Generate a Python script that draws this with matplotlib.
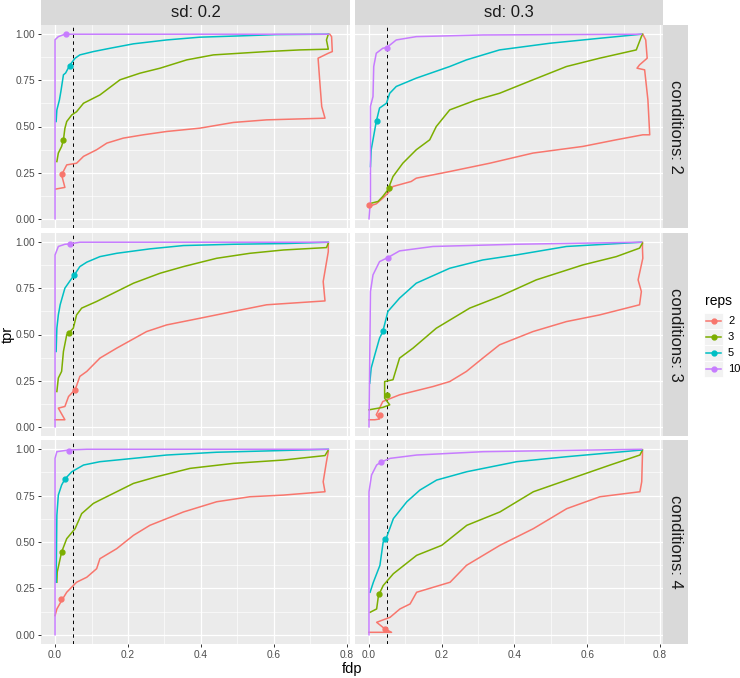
#coding:utf-8
# ROC-like curves (tpr vs fdp) per sd / conditions facet, one line per reps

import numpy as np
import matplotlib.pyplot as plt
from matplotlib.patches import Rectangle

plt.rcParams['font.family'] = ['Liberation Sans', 'DejaVu Sans']

reps = [2, 3, 5, 10]
sd_levels = ['0.2', '0.3']
cond_levels = [2, 3, 4]
colors = ['#F8766D', '#7CAE00', '#00BFC4', '#C77CFF']
fdp_cut = 0.05

# ---- sd 0.2, conditions 2
fdp_22_r2 = [0.002, 0.027, 0.018, 0.032, 0.059, 0.078, 0.114, 0.142, 0.187, 0.242, 0.306, 0.397, 0.489, 0.58, 0.74, 0.731, 0.726, 0.721, 0.749, 0.76, 0.758, 0.753]
tpr_22_r2 = [0.161, 0.17, 0.238, 0.292, 0.301, 0.338, 0.374, 0.41, 0.437, 0.455, 0.473, 0.491, 0.522, 0.536, 0.545, 0.608, 0.735, 0.87, 0.897, 0.906, 0.987, 1.0]
fdp_22_r3 = [0.005, 0.009, 0.018, 0.023, 0.027, 0.032, 0.046, 0.059, 0.078, 0.123, 0.178, 0.233, 0.288, 0.361, 0.434, 0.507, 0.58, 0.671, 0.749, 0.744, 0.749]
tpr_22_r3 = [0.31, 0.356, 0.392, 0.428, 0.49, 0.527, 0.563, 0.58, 0.626, 0.671, 0.753, 0.789, 0.816, 0.861, 0.888, 0.897, 0.906, 0.915, 0.919, 0.969, 1.0]
fdp_22_r5 = [0.003, 0.005, 0.012, 0.016, 0.023, 0.029, 0.041, 0.055, 0.068, 0.105, 0.151, 0.215, 0.306, 0.397, 0.507, 0.607, 0.749]
tpr_22_r5 = [0.527, 0.59, 0.644, 0.69, 0.78, 0.79, 0.834, 0.87, 0.888, 0.906, 0.924, 0.948, 0.969, 0.984, 0.991, 0.998, 1.0]
fdp_22_r10 = [0.0, 0.0, 0.009, 0.027, 0.75]
tpr_22_r10 = [0.0, 0.97, 0.987, 1.0, 1.0]
pt_fdp_22 = [0.02, 0.023, 0.041, 0.029]
pt_tpr_22 = [0.244, 0.428, 0.83, 1.0]

# ---- sd 0.3, conditions 2
fdp_32_r2 = [0.0, 0.02, 0.038, 0.052, 0.066, 0.116, 0.13, 0.222, 0.332, 0.451, 0.588, 0.68, 0.753, 0.772, 0.767, 0.758, 0.737, 0.744, 0.765, 0.761, 0.753]
tpr_32_r2 = [0.067, 0.081, 0.112, 0.139, 0.175, 0.202, 0.22, 0.256, 0.301, 0.356, 0.392, 0.428, 0.455, 0.455, 0.644, 0.807, 0.816, 0.834, 0.87, 0.969, 1.0]
fdp_32_r3 = [0.0, 0.025, 0.038, 0.052, 0.066, 0.093, 0.13, 0.167, 0.185, 0.222, 0.295, 0.359, 0.451, 0.543, 0.634, 0.735, 0.749, 0.752]
tpr_32_r3 = [0.081, 0.094, 0.121, 0.157, 0.229, 0.301, 0.374, 0.428, 0.5, 0.59, 0.644, 0.68, 0.753, 0.825, 0.87, 0.915, 0.987, 1.0]
fdp_32_r5 = [0.004, 0.006, 0.011, 0.02, 0.029, 0.048, 0.057, 0.075, 0.13, 0.222, 0.268, 0.359, 0.497, 0.634, 0.749]
tpr_32_r5 = [0.283, 0.374, 0.428, 0.527, 0.6, 0.626, 0.68, 0.717, 0.762, 0.825, 0.861, 0.915, 0.951, 0.978, 1.0]
fdp_32_r10 = [0.0, 0.004, 0.004, 0.011, 0.013, 0.02, 0.038, 0.049, 0.075, 0.13, 0.313, 0.749]
tpr_32_r10 = [0.0, 0.1, 0.61, 0.662, 0.825, 0.897, 0.924, 0.928, 0.969, 0.987, 0.996, 1.0]
pt_fdp_32 = [0.0, 0.055, 0.022, 0.049]
pt_tpr_32 = [0.072, 0.166, 0.53, 0.928]

# ---- sd 0.2, conditions 3
fdp_23_r2 = [0.0, 0.027, 0.009, 0.027, 0.037, 0.05, 0.055, 0.068, 0.087, 0.123, 0.169, 0.251, 0.306, 0.397, 0.489, 0.58, 0.74, 0.735, 0.749, 0.749]
tpr_23_r2 = [0.038, 0.038, 0.101, 0.11, 0.164, 0.191, 0.2, 0.273, 0.3, 0.372, 0.426, 0.516, 0.552, 0.588, 0.625, 0.661, 0.682, 0.787, 0.949, 0.995]
fdp_23_r3 = [0.005, 0.009, 0.018, 0.023, 0.032, 0.037, 0.05, 0.059, 0.073, 0.114, 0.169, 0.215, 0.288, 0.352, 0.443, 0.534, 0.626, 0.744, 0.749]
tpr_23_r3 = [0.191, 0.264, 0.3, 0.408, 0.498, 0.507, 0.534, 0.606, 0.643, 0.679, 0.733, 0.778, 0.832, 0.868, 0.913, 0.94, 0.958, 0.971, 0.995]
fdp_23_r5 = [0.003, 0.005, 0.009, 0.014, 0.027, 0.046, 0.052, 0.068, 0.087, 0.123, 0.169, 0.26, 0.352, 0.489, 0.635, 0.749]
tpr_23_r5 = [0.408, 0.534, 0.606, 0.661, 0.751, 0.805, 0.82, 0.868, 0.892, 0.922, 0.94, 0.964, 0.982, 0.989, 0.993, 1.0]
fdp_23_r10 = [0.0, 0.0, 0.009, 0.027, 0.041, 0.068, 0.749]
tpr_23_r10 = [0.0, 0.931, 0.977, 0.989, 0.991, 1.0, 1.0]
pt_fdp_23 = [0.055, 0.037, 0.052, 0.041]
pt_tpr_23 = [0.2, 0.507, 0.82, 0.989]

# ---- sd 0.3, conditions 3
fdp_33_r2 = [0.0, 0.016, 0.029, 0.02, 0.038, 0.084, 0.176, 0.222, 0.268, 0.313, 0.359, 0.451, 0.543, 0.634, 0.744, 0.749, 0.74, 0.753, 0.752, 0.752]
tpr_33_r2 = [0.038, 0.038, 0.042, 0.065, 0.137, 0.173, 0.218, 0.245, 0.3, 0.372, 0.444, 0.516, 0.57, 0.606, 0.661, 0.733, 0.796, 0.913, 0.968, 1.0]
fdp_33_r3 = [0.0, 0.038, 0.057, 0.043, 0.043, 0.066, 0.084, 0.121, 0.185, 0.277, 0.359, 0.46, 0.588, 0.68, 0.744, 0.752]
tpr_33_r3 = [0.092, 0.105, 0.119, 0.155, 0.245, 0.255, 0.372, 0.426, 0.534, 0.643, 0.706, 0.796, 0.877, 0.922, 0.968, 0.995]
fdp_33_r5 = [0.002, 0.006, 0.016, 0.029, 0.038, 0.052, 0.084, 0.13, 0.222, 0.313, 0.405, 0.543, 0.749]
tpr_33_r5 = [0.236, 0.318, 0.39, 0.48, 0.516, 0.625, 0.697, 0.778, 0.859, 0.904, 0.931, 0.977, 1.0]
fdp_33_r10 = [0.0, 0.004, 0.011, 0.029, 0.052, 0.084, 0.176, 0.405, 0.749]
tpr_33_r10 = [0.0, 0.733, 0.823, 0.895, 0.917, 0.953, 0.977, 0.989, 1.0]
pt_fdp_33 = [0.031, 0.05, 0.038, 0.052]
pt_tpr_33 = [0.065, 0.17, 0.52, 0.913]

# ---- sd 0.2, conditions 4
fdp_24_r2 = [0.0, 0.005, 0.018, 0.032, 0.059, 0.087, 0.114, 0.123, 0.169, 0.215, 0.26, 0.352, 0.443, 0.534, 0.626, 0.74, 0.735, 0.744, 0.749]
tpr_24_r2 = [0.103, 0.139, 0.184, 0.229, 0.283, 0.31, 0.356, 0.41, 0.464, 0.536, 0.59, 0.662, 0.717, 0.744, 0.753, 0.771, 0.825, 0.933, 0.987]
fdp_24_r3 = [0.005, 0.006, 0.012, 0.018, 0.032, 0.055, 0.073, 0.105, 0.123, 0.169, 0.215, 0.279, 0.37, 0.489, 0.626, 0.74, 0.749]
tpr_24_r3 = [0.283, 0.338, 0.392, 0.446, 0.518, 0.572, 0.653, 0.708, 0.726, 0.771, 0.816, 0.852, 0.897, 0.924, 0.942, 0.966, 0.996]
fdp_24_r5 = [0.003, 0.005, 0.009, 0.018, 0.027, 0.046, 0.078, 0.123, 0.215, 0.306, 0.443, 0.58, 0.749]
tpr_24_r5 = [0.283, 0.644, 0.753, 0.807, 0.839, 0.879, 0.915, 0.933, 0.951, 0.969, 0.984, 0.991, 1.0]
fdp_24_r10 = [0.0, 0.0, 0.005, 0.037, 0.087, 0.749]
tpr_24_r10 = [0.0, 0.951, 0.987, 0.996, 1.0, 1.0]
pt_fdp_24 = [0.016, 0.018, 0.027, 0.037]
pt_tpr_24 = [0.19, 0.446, 0.839, 0.993]

# ---- sd 0.3, conditions 4
fdp_34_r2 = [0.0, 0.062, 0.044, 0.021, 0.058, 0.085, 0.113, 0.131, 0.223, 0.268, 0.36, 0.452, 0.544, 0.635, 0.745, 0.75, 0.752, 0.752]
tpr_34_r2 = [0.013, 0.013, 0.031, 0.067, 0.094, 0.139, 0.166, 0.229, 0.283, 0.374, 0.482, 0.572, 0.68, 0.744, 0.771, 0.825, 0.969, 0.996]
fdp_34_r3 = [0.003, 0.021, 0.026, 0.039, 0.067, 0.131, 0.2, 0.269, 0.36, 0.452, 0.544, 0.663, 0.745, 0.752]
tpr_34_r3 = [0.121, 0.139, 0.211, 0.265, 0.329, 0.428, 0.482, 0.59, 0.662, 0.771, 0.834, 0.915, 0.969, 0.996]
fdp_34_r5 = [0.003, 0.012, 0.03, 0.039, 0.047, 0.067, 0.104, 0.14, 0.186, 0.269, 0.406, 0.544, 0.75]
tpr_34_r5 = [0.229, 0.283, 0.374, 0.5, 0.518, 0.626, 0.717, 0.78, 0.834, 0.879, 0.933, 0.96, 0.996]
fdp_34_r10 = [0.0, 0.0, 0.007, 0.021, 0.032, 0.058, 0.131, 0.314, 0.75]
tpr_34_r10 = [0.0, 0.771, 0.861, 0.915, 0.93, 0.951, 0.969, 0.987, 1.0]
pt_fdp_34 = [0.044, 0.027, 0.044, 0.032]
pt_tpr_34 = [0.031, 0.218, 0.514, 0.93]

# table of panels built from the lists above
panels = {}
for s in ['2', '3']:
    for c in cond_levels:
        key = s + str(c)
        g = globals()
        panels[key] = {
            'lines': [(g['fdp_%s_r%d' % (key, r)], g['tpr_%s_r%d' % (key, r)]) for r in reps],
            'pts': (g['pt_fdp_' + key], g['pt_tpr_' + key]),
        }

W, H = 740, 678
fig = plt.figure(figsize=(W / 100, H / 100), dpi=100, facecolor='white')

def rect(x0, y0, x1, y1):
    # pixel box (top-left origin) -> figure fraction
    return [x0 / W, 1 - y1 / H, (x1 - x0) / W, (y1 - y0) / H]

col_px = [(41, 350), (355, 663)]
row_px = [(25, 228), (233, 436), (440, 644)]
strip_bg = '#D9D9D9'

for j, sd in enumerate(sd_levels):
    x0, x1 = col_px[j]
    sa = fig.add_axes(rect(x0, 0, x1, 25))
    sa.set_facecolor(strip_bg)
    sa.set_xticks([]); sa.set_yticks([])
    for sp in sa.spines.values():
        sp.set_visible(False)
    sa.text(0.5, 0.5, 'sd: ' + sd, ha='center', va='center', fontsize=12, color='#1A1A1A', transform=sa.transAxes)

for i, c in enumerate(cond_levels):
    y0, y1 = row_px[i]
    sa = fig.add_axes(rect(663, y0, 688, y1))
    sa.set_facecolor(strip_bg)
    sa.set_xticks([]); sa.set_yticks([])
    for sp in sa.spines.values():
        sp.set_visible(False)
    sa.text(0.5, 0.5, 'conditions: %d' % c, ha='center', va='center', rotation=-90,
            fontsize=12, color='#1A1A1A', transform=sa.transAxes)

for i, c in enumerate(cond_levels):
    for j, sd in enumerate(sd_levels):
        x0, x1 = col_px[j]
        y0, y1 = row_px[i]
        ax = fig.add_axes(rect(x0, y0, x1, y1))
        ax.set_facecolor('#EBEBEB')
        for sp in ax.spines.values():
            sp.set_visible(False)
        ax.set_xlim(-0.0385, 0.8085)
        ax.set_ylim(-0.05, 1.05)
        ax.set_xticks([0, 0.2, 0.4, 0.6, 0.8])
        ax.set_xticks([0.1, 0.3, 0.5, 0.7], minor=True)
        ax.set_yticks([0, 0.25, 0.5, 0.75, 1.0])
        ax.set_yticks([0.125, 0.375, 0.625, 0.875], minor=True)
        ax.set_xticklabels(['0.0', '0.2', '0.4', '0.6', '0.8'])
        ax.set_yticklabels(['0.00', '0.25', '0.50', '0.75', '1.00'])
        ax.grid(which='major', color='white', lw=0.9)
        ax.grid(which='minor', color='white', lw=0.45)
        ax.set_axisbelow(True)
        ax.tick_params(which='minor', length=0)
        ax.tick_params(which='major', length=2.2, width=0.7, color='#333333',
                       labelsize=7.3, labelcolor='#4D4D4D', pad=2.2)
        if j > 0:
            ax.tick_params(axis='y', left=False, labelleft=False)
        if i < 2:
            ax.tick_params(axis='x', bottom=False, labelbottom=False)

        p = panels[sd[-1] + str(c)]
        ax.axvline(fdp_cut, color='black', lw=0.7, ls=(0, (3.5, 3.5)), zorder=2)
        for k, (fx, ty) in enumerate(p['lines']):
            ax.plot(fx, ty, color=colors[k], lw=1.1, zorder=3)
        for k in range(len(reps)):
            ax.plot(p['pts'][0][k], p['pts'][1][k], 'o', color=colors[k], ms=3.5, zorder=4)

fig.text(352 / W, 1 - 669 / H, 'fdp', ha='center', va='center', fontsize=10.5, color='black')
fig.text(8 / W, 1 - 334 / H, 'tpr', ha='center', va='center', rotation=90, fontsize=10.5, color='black')

# legend
la = fig.add_axes([0, 0, 1, 1], facecolor='none')
la.set_xlim(0, W); la.set_ylim(H, 0)
la.axis('off')
la.text(705, 301, 'reps', ha='left', va='center', fontsize=10, color='black')
key_y = [320.7, 336.9, 353.1, 369.3]
for k, r in enumerate(reps):
    yk = key_y[k]
    la.add_patch(Rectangle((704, yk - 8.1), 19, 16.2, facecolor='#F2F2F2', edgecolor='white', lw=0.6))
    la.plot([706, 721], [yk, yk], color=colors[k], lw=1.1)
    la.plot([713.5], [yk], 'o', color=colors[k], ms=3.5)
    la.text(728, yk, str(r), ha='left', va='center', fontsize=8, color='black')

plt.savefig('out.png', dpi=100)
plt.close()
